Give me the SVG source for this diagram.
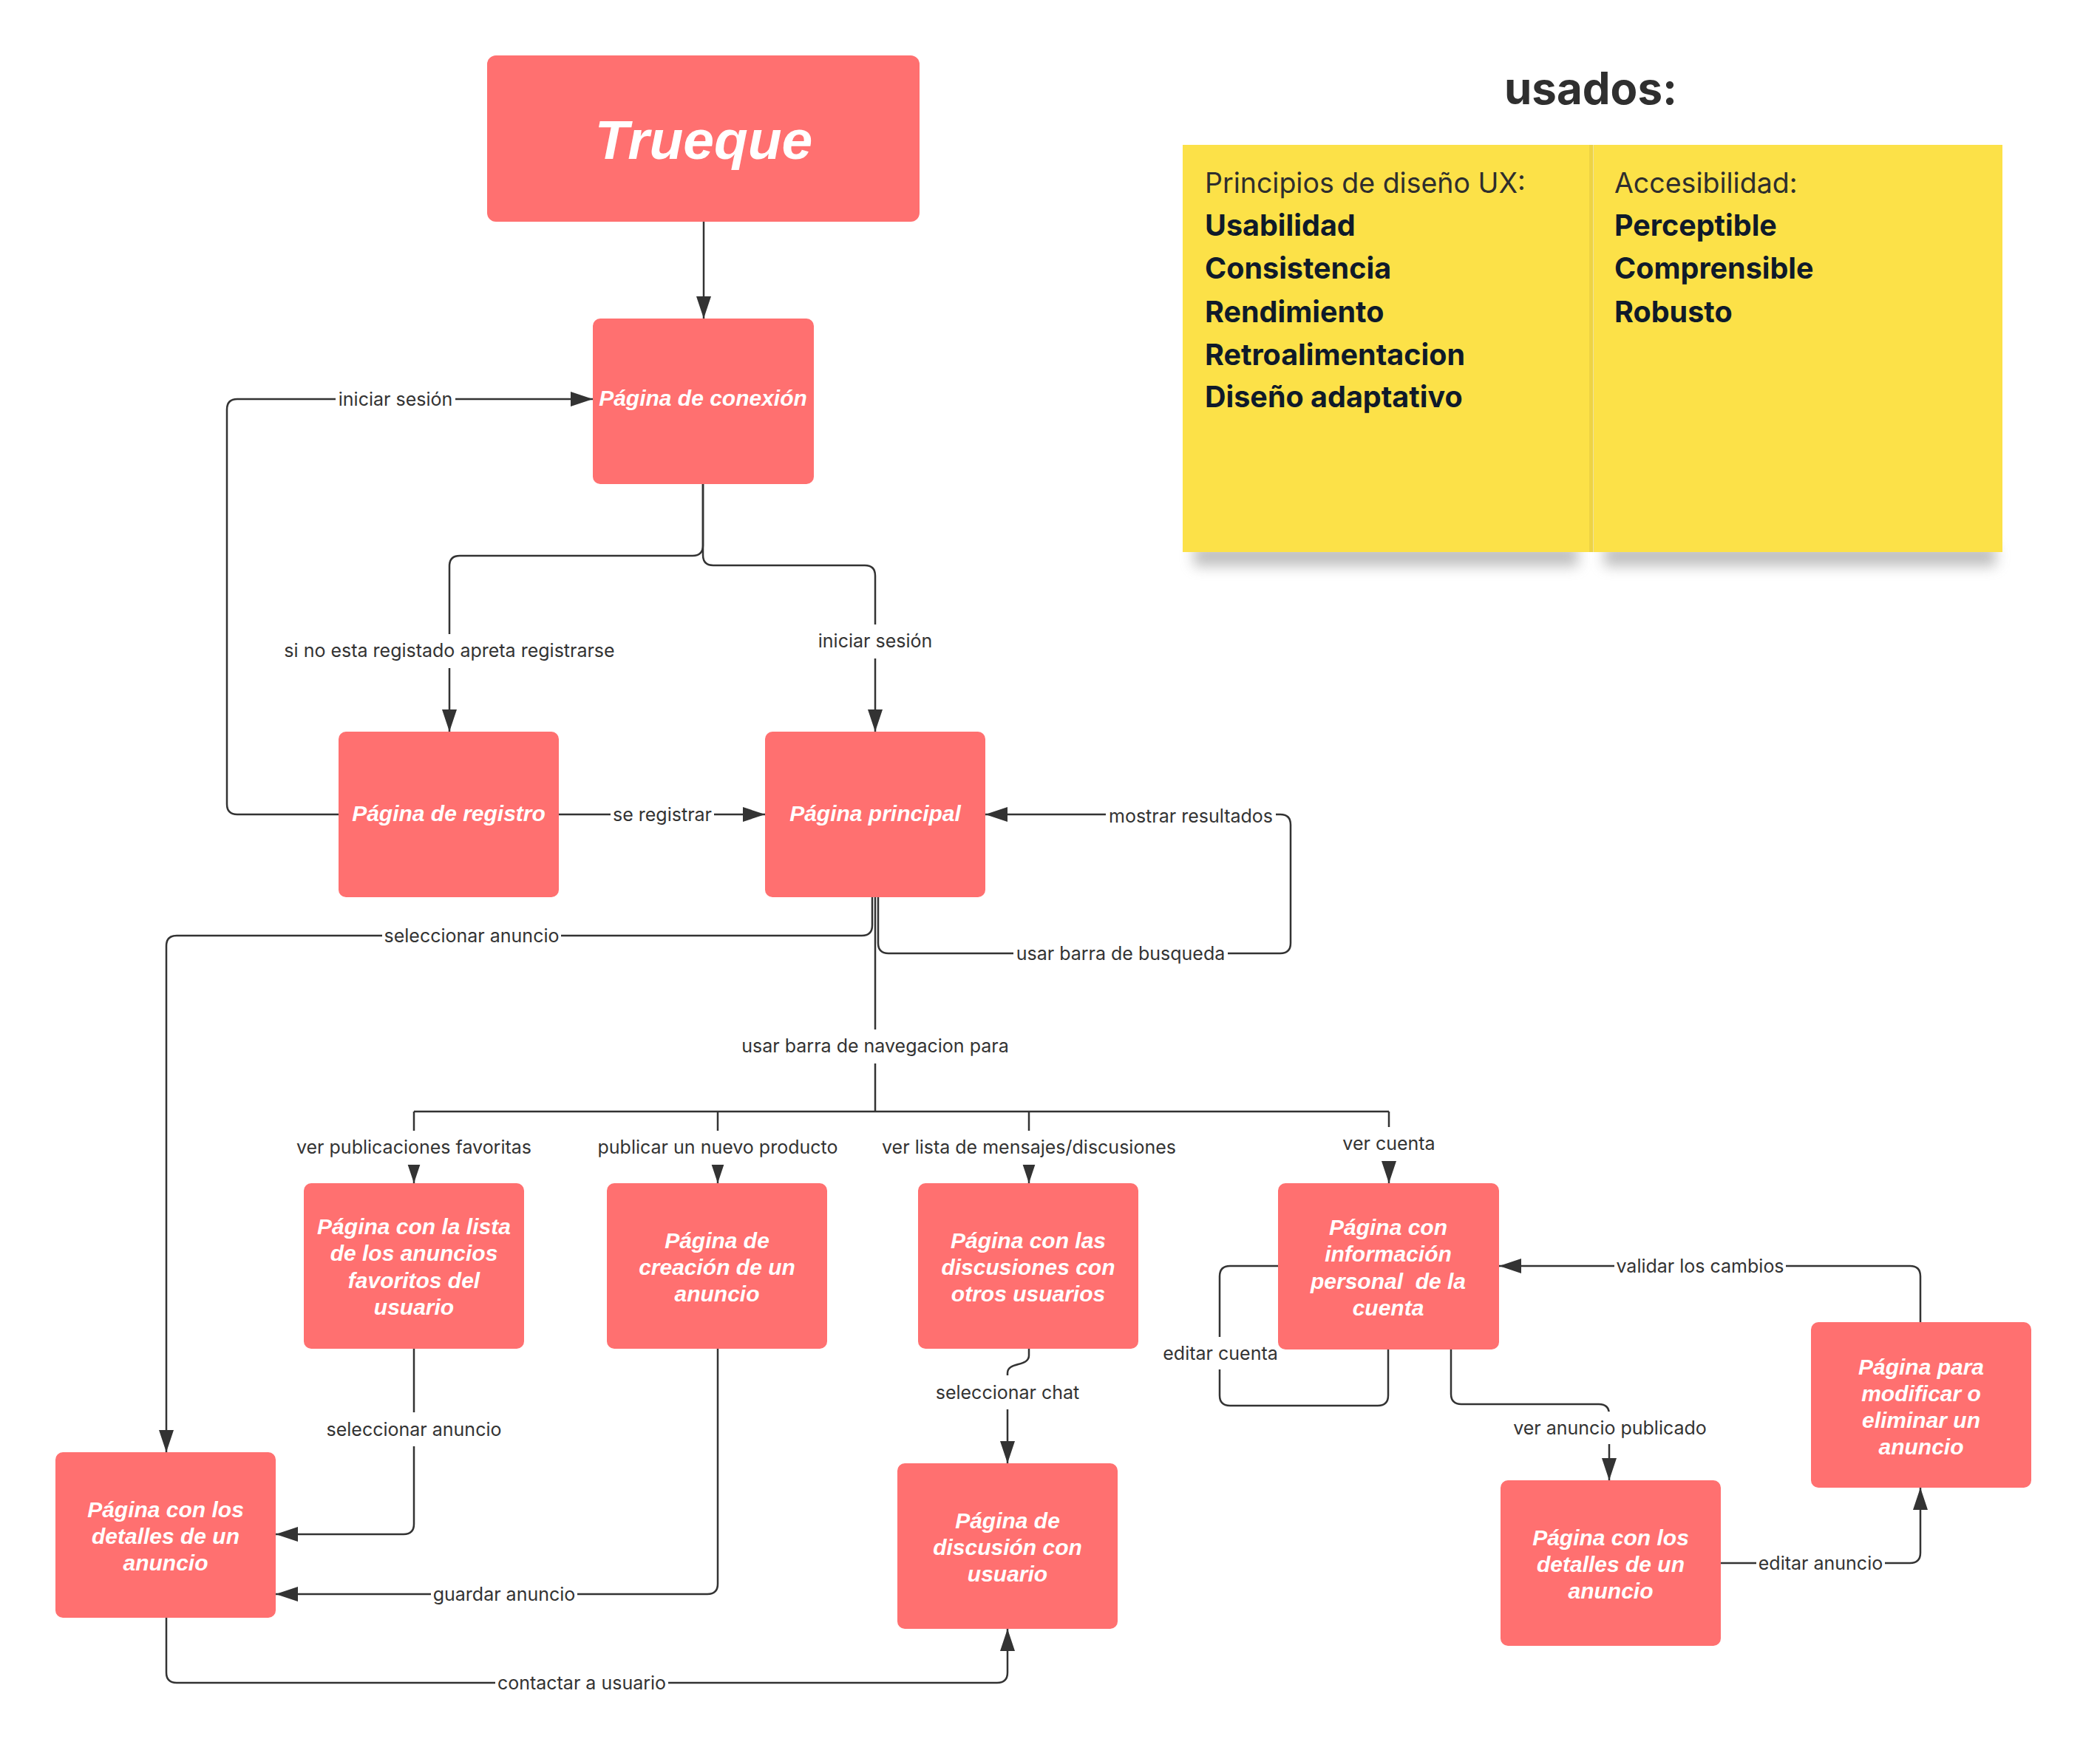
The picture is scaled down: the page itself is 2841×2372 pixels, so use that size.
<svg xmlns="http://www.w3.org/2000/svg" width="2841" height="2372" viewBox="0 0 2841 2372">
<style>
.node{fill:#FF7070}
.nt{font-family:"Liberation Sans",Arial,sans-serif;font-weight:bold;font-style:italic;font-size:30px;fill:#fff;text-anchor:middle}
.ln{fill:none;stroke:#333;stroke-width:2.5}
.lb rect{fill:#fff}
.lb text{font-family:Inter,"Liberation Sans",sans-serif;font-size:25px;fill:#333;text-anchor:middle}
.note{fill:#FCE148}
.nh{font-family:Inter,"Liberation Sans",sans-serif;font-size:37.5px;fill:#2e2e2e}
.nb{font-family:Inter,"Liberation Sans",sans-serif;font-size:39.5px;font-weight:bold;fill:#0f1a2a}
</style>
<defs>
<marker id="arr" markerUnits="userSpaceOnUse" markerWidth="30" markerHeight="20" refX="30" refY="10" orient="auto">
<path d="M0,0 L30,10 L0,20 z" fill="#333"/>
</marker>
<filter id="blur" x="-20%" y="-100%" width="140%" height="300%"><feGaussianBlur stdDeviation="9"/></filter>
</defs>
<rect width="2841" height="2372" fill="#fff"/>

<g id="notes">
<rect x="1615" y="738" width="520" height="28" fill="#8a8a8a" opacity="0.55" filter="url(#blur)"/>
<rect x="2170" y="738" width="530" height="28" fill="#8a8a8a" opacity="0.55" filter="url(#blur)"/>
<g id="note-ux">
<rect class="note" x="1600" y="196" width="555" height="551"/>
<text class="nh" x="1630" y="261">Principios de diseño UX:</text>
<text class="nb" x="1630" y="319">Usabilidad</text>
<text class="nb" x="1630" y="377">Consistencia</text>
<text class="nb" x="1630" y="436">Rendimiento</text>
<text class="nb" x="1630" y="494">Retroalimentacion</text>
<text class="nb" x="1630" y="551">Diseño adaptativo</text>
</g>
<g id="note-acc">
<rect x="2150" y="196" width="8" height="551" fill="#e0c640" opacity="0.5"/>
<rect class="note" x="2156" y="196" width="553" height="551"/>
<text class="nh" x="2184" y="261">Accesibilidad:</text>
<text class="nb" x="2184" y="319">Perceptible</text>
<text class="nb" x="2184" y="377">Comprensible</text>
<text class="nb" x="2184" y="436">Robusto</text>
</g>
<text id="usados" x="2152" y="141" font-family="Inter,'Liberation Sans',sans-serif" font-size="60" font-weight="bold" fill="#2f2f2f" text-anchor="middle">usados:</text>
</g>

<g id="connectors">
<path class="ln" d="M952 300 L952 431" marker-end="url(#arr)"/>
<path class="ln" d="M951 655 L951 738 Q951 752 937 752 L622 752 Q608 752 608 766 L608 990" marker-end="url(#arr)"/>
<path class="ln" d="M951 655 L951 751 Q951 765 965 765 L1170 765 Q1184 765 1184 779 L1184 990" marker-end="url(#arr)"/>
<path class="ln" d="M756 1102 L1035 1102" marker-end="url(#arr)"/>
<path class="ln" d="M458 1102 L321 1102 Q307 1102 307 1088 L307 554 Q307 540 321 540 L802 540" marker-end="url(#arr)"/>
<path class="ln" d="M1180 1214 L1180 1252 Q1180 1266 1166 1266 L239 1266 Q225 1266 225 1280 L225 1965" marker-end="url(#arr)"/>
<path class="ln" d="M1188 1214 L1188 1276 Q1188 1290 1202 1290 L1732 1290 Q1746 1290 1746 1276 L1746 1116 Q1746 1102 1732 1102 L1333 1102" marker-end="url(#arr)"/>
<path class="ln" d="M1184 1214 L1184 1504"/>
<path class="ln" d="M560 1504 L1879 1504"/>
<path class="ln" d="M560 1504 L560 1601" marker-end="url(#arr)"/>
<path class="ln" d="M971 1504 L971 1601" marker-end="url(#arr)"/>
<path class="ln" d="M1392 1504 L1392 1601" marker-end="url(#arr)"/>
<path class="ln" d="M1879 1504 L1879 1601" marker-end="url(#arr)"/>
<path class="ln" d="M560 1825 L560 2062 Q560 2076 546 2076 L373 2076" marker-end="url(#arr)"/>
<path class="ln" d="M971 1825 L971 2143 Q971 2157 957 2157 L373 2157" marker-end="url(#arr)"/>
<path class="ln" d="M1392 1825 L1392 1834 C1392 1850 1363 1842 1363 1858 L1363 1980" marker-end="url(#arr)"/>
<path class="ln" d="M225 2189 L225 2263 Q225 2277 239 2277 L1349 2277 Q1363 2277 1363 2263 L1363 2204" marker-end="url(#arr)"/>
<path class="ln" d="M1729 1713 L1664 1713 Q1650 1713 1650 1727 L1650 1888 Q1650 1902 1664 1902 L1864 1902 Q1878 1902 1878 1888 L1878 1826"/>
<path class="ln" d="M1963 1826 L1963 1886 Q1963 1900 1977 1900 L2163 1900 Q2177 1900 2177 1914 L2177 2003" marker-end="url(#arr)"/>
<path class="ln" d="M2328 2115 L2584 2115 Q2598 2115 2598 2101 L2598 2013" marker-end="url(#arr)"/>
<path class="ln" d="M2598 1789 L2598 1727 Q2598 1713 2584 1713 L2028 1713" marker-end="url(#arr)"/>

<g class="lb"><rect x="380" y="858" width="456" height="46"/><text x="608" y="889">si no esta registado apreta registrarse</text></g>
<g class="lb"><rect x="1103" y="845" width="162" height="46"/><text x="1184" y="876">iniciar sesión</text></g>
<g class="lb"><rect x="454" y="522" width="162" height="36"/><text x="535" y="549">iniciar sesión</text></g>
<g class="lb"><rect x="826" y="1084" width="140" height="36"/><text x="896" y="1111">se registrar</text></g>
<g class="lb"><rect x="1496" y="1086" width="230" height="36"/><text x="1611" y="1113">mostrar resultados</text></g>
<g class="lb"><rect x="517" y="1248" width="242" height="36"/><text x="638" y="1275">seleccionar anuncio</text></g>
<g class="lb"><rect x="1371" y="1272" width="290" height="36"/><text x="1516" y="1299">usar barra de busqueda</text></g>
<g class="lb"><rect x="1000" y="1393" width="368" height="46"/><text x="1184" y="1424">usar barra de navegacion para</text></g>
<g class="lb"><rect x="398" y="1530" width="324" height="46"/><text x="560" y="1561">ver publicaciones favoritas</text></g>
<g class="lb"><rect x="806" y="1530" width="330" height="46"/><text x="971" y="1561">publicar un nuevo producto</text></g>
<g class="lb"><rect x="1191" y="1530" width="402" height="46"/><text x="1392" y="1561">ver lista de mensajes/discusiones</text></g>
<g class="lb"><rect x="1813" y="1525" width="132" height="46"/><text x="1879" y="1556">ver cuenta</text></g>
<g class="lb"><rect x="439" y="1911" width="242" height="46"/><text x="560" y="1943">seleccionar anuncio</text></g>
<g class="lb"><rect x="583" y="2139" width="198" height="36"/><text x="682" y="2166">guardar anuncio</text></g>
<g class="lb"><rect x="1263" y="1861" width="200" height="46"/><text x="1363" y="1893">seleccionar chat</text></g>
<g class="lb"><rect x="670" y="2259" width="234" height="36"/><text x="787" y="2286">contactar a usuario</text></g>
<g class="lb"><rect x="1570" y="1809" width="162" height="44"/><text x="1651" y="1840">editar cuenta</text></g>
<g class="lb"><rect x="2044" y="1910" width="268" height="44"/><text x="2178" y="1941">ver anuncio publicado</text></g>
<g class="lb"><rect x="2376" y="2097" width="174" height="36"/><text x="2463" y="2124">editar anuncio</text></g>
<g class="lb"><rect x="2184" y="1695" width="232" height="36"/><text x="2300" y="1722">validar los cambios</text></g>
</g>

<g id="trueque"><rect class="node" x="659" y="75" width="585" height="225" rx="12"/>
<text class="nt" x="952" y="215" style="font-size:75px">Trueque</text></g>
<g id="conexion"><rect class="node" x="802" y="431" width="299" height="224" rx="10"/>
<text class="nt" x="951" y="549">Página de conexión</text></g>
<g id="registro"><rect class="node" x="458" y="990" width="298" height="224" rx="10"/>
<text class="nt" x="607" y="1111">Página de registro</text></g>
<g id="principal"><rect class="node" x="1035" y="990" width="298" height="224" rx="10"/>
<text class="nt" x="1184" y="1111">Página principal</text></g>
<g id="favoritos"><rect class="node" x="411" y="1601" width="298" height="224" rx="10"/>
<text class="nt" x="560" y="1670">Página con la lista</text>
<text class="nt" x="560" y="1706">de los anuncios</text>
<text class="nt" x="560" y="1743">favoritos del</text>
<text class="nt" x="560" y="1779">usuario</text></g>
<g id="creacion"><rect class="node" x="821" y="1601" width="298" height="224" rx="10"/>
<text class="nt" x="970" y="1689">Página de</text>
<text class="nt" x="970" y="1725">creación de un</text>
<text class="nt" x="970" y="1761">anuncio</text></g>
<g id="discusiones"><rect class="node" x="1242" y="1601" width="298" height="224" rx="10"/>
<text class="nt" x="1391" y="1689">Página con las</text>
<text class="nt" x="1391" y="1725">discusiones con</text>
<text class="nt" x="1391" y="1761">otros usuarios</text></g>
<g id="cuenta"><rect class="node" x="1729" y="1601" width="299" height="225" rx="10"/>
<text class="nt" x="1878" y="1671">Página con</text>
<text class="nt" x="1878" y="1707">información</text>
<text class="nt" x="1878" y="1744" style="white-space:pre">personal  de la</text>
<text class="nt" x="1878" y="1780">cuenta</text></g>
<g id="detalles"><rect class="node" x="75" y="1965" width="298" height="224" rx="10"/>
<text class="nt" x="224" y="2053">Página con los</text>
<text class="nt" x="224" y="2089">detalles de un</text>
<text class="nt" x="224" y="2125">anuncio</text></g>
<g id="discusion"><rect class="node" x="1214" y="1980" width="298" height="224" rx="10"/>
<text class="nt" x="1363" y="2068">Página de</text>
<text class="nt" x="1363" y="2104">discusión con</text>
<text class="nt" x="1363" y="2140">usuario</text></g>
<g id="detalles2"><rect class="node" x="2030" y="2003" width="298" height="224" rx="10"/>
<text class="nt" x="2179" y="2091">Página con los</text>
<text class="nt" x="2179" y="2127">detalles de un</text>
<text class="nt" x="2179" y="2163">anuncio</text></g>
<g id="modificar"><rect class="node" x="2450" y="1789" width="298" height="224" rx="10"/>
<text class="nt" x="2599" y="1860">Página para</text>
<text class="nt" x="2599" y="1896">modificar o</text>
<text class="nt" x="2599" y="1932">eliminar un</text>
<text class="nt" x="2599" y="1968">anuncio</text></g>
</svg>
